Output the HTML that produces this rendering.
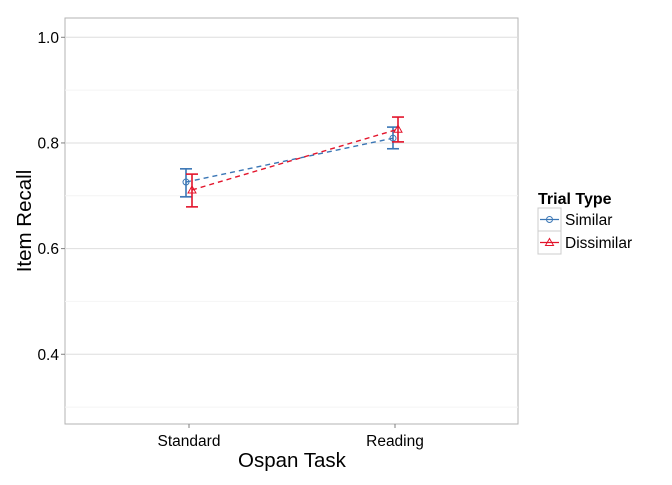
<!DOCTYPE html>
<html><head><meta charset="utf-8"><style>
body{margin:0;background:#fff;font-family:"Liberation Sans",sans-serif;}
</style></head><body>
<svg id="chart" width="672" height="480" xmlns="http://www.w3.org/2000/svg"></svg>
<script>
const categories=["Standard","Reading"];
const seriesNames=["Similar","Dissimilar"];
const similarMean=[0.726,0.809];
const similarLow=[0.698,0.789];
const similarHigh=[0.751,0.830];
const dissimilarMean=[0.711,0.826];
const dissimilarLow=[0.679,0.802];
const dissimilarHigh=[0.741,0.849];
const yTicks=[0.4,0.6,0.8,1.0];
const yTickLabels=["0.4","0.6","0.8","1.0"];

const svg=document.getElementById('chart');
const NS="http://www.w3.org/2000/svg";
const P={l:65,r:518,t:18,b:424};
const yMin=0.2680,yMax=1.0365;
const y=v=>P.b-(v-yMin)/(yMax-yMin)*(P.b-P.t);
function el(tag,attrs,parent){const e=document.createElementNS(NS,tag);for(const k in attrs)e.setAttribute(k,attrs[k]);(parent||svg).appendChild(e);return e;}

const panel=el('rect',{x:P.l,y:P.t,width:P.r-P.l,height:P.b-P.t,fill:'#fff',stroke:'#b3b3b3','stroke-width':1});


for(let i=0;i<yTicks.length-1;i++){
  const m=(yTicks[i]+yTicks[i+1])/2;
  const g=el('line',{x1:P.l,x2:P.r,y1:y(m),y2:y(m),stroke:'#f4f4f4','stroke-width':1});
  
  
}
const m0=el('line',{x1:P.l,x2:P.r,y1:y(0.3),y2:y(0.3),stroke:'#f4f4f4','stroke-width':1});


yTicks.forEach((t,i)=>{
  const g=el('line',{x1:P.l,x2:P.r,y1:y(t),y2:y(t),stroke:'#dedede','stroke-width':1});
  
  
  const tk=el('line',{x1:P.l-4,x2:P.l,y1:y(t),y2:y(t),stroke:'#7f7f7f'});
  
  
  const tx=el('text',{x:P.l-6,y:y(t)+5.5,'text-anchor':'end','font-size':15.5,fill:'#000'});
  tx.textContent=yTickLabels[i];
  
  
});
categories.forEach((c,i)=>{
  const xc=i===0?189:395;
  const tk=el('line',{x1:xc,x2:xc,y1:P.b,y2:P.b+4,stroke:'#7f7f7f'});
  
  
  const tx=el('text',{x:xc,y:P.b+22,'text-anchor':'middle','font-size':15.5});
  tx.textContent=c;
  
  
});
const xt=el('text',{x:292,y:467,'text-anchor':'middle','font-size':20.5});
xt.textContent='Ospan Task';


const yt=el('text',{x:0,y:0,'text-anchor':'middle','font-size':20.5,transform:'translate(31,221) rotate(-90)'});
yt.textContent='Item Recall';



const colors=['#3a76b5','#e3142b'];
const xs=[[186,393],[192,398]];
const data=[[similarMean,similarLow,similarHigh],[dissimilarMean,dissimilarLow,dissimilarHigh]];
data.forEach((d,s)=>{
  const [mean,lo,hi]=d;
  const line=el('polyline',{points:mean.map((v,i)=>xs[s][i]+','+y(v)).join(' '),fill:'none',stroke:colors[s],'stroke-width':1.4,'stroke-dasharray':'5,4'});
  
  
  mean.forEach((v,i)=>{
    const cx=xs[s][i];
    const g=el('g',{stroke:colors[s],'stroke-width':1.6,fill:'none'});
    
    
    el('line',{x1:cx,x2:cx,y1:y(lo[i]),y2:y(hi[i])},g);
    el('line',{x1:cx-6,x2:cx+6,y1:y(lo[i]),y2:y(lo[i])},g);
    el('line',{x1:cx-6,x2:cx+6,y1:y(hi[i]),y2:y(hi[i])},g);
    let pt;
    if(s===0) pt=el('circle',{cx:cx,cy:y(v),r:3,stroke:colors[s],fill:'none','stroke-width':1});
    else pt=el('polygon',{points:`${cx},${y(v)-4} ${cx-4},${y(v)+3} ${cx+4},${y(v)+3}`,stroke:colors[s],fill:'none','stroke-width':1});
    
    
  });
});
const lt=el('text',{x:538,y:204,'font-size':16,'font-weight':'bold'});
lt.textContent='Trial Type';


seriesNames.forEach((n,s)=>{
  const top=208+s*23;
  const g=el('g',{});
  
  
  el('rect',{x:538,y:top,width:23,height:23,fill:'#fff',stroke:'#cccccc'},g);
  el('line',{x1:540,x2:559,y1:top+11.5,y2:top+11.5,stroke:colors[s],'stroke-width':1.2},g);
  if(s===0) el('circle',{cx:549.5,cy:top+11.5,r:3,stroke:colors[s],fill:'none'},g);
  else el('polygon',{points:`549.5,${top+7.5} 545.5,${top+14.5} 553.5,${top+14.5}`,stroke:colors[s],fill:'none'},g);
  const t=el('text',{x:565,y:top+17,'font-size':15.5},g);
  t.textContent=n;
});
</script>
</body></html>
